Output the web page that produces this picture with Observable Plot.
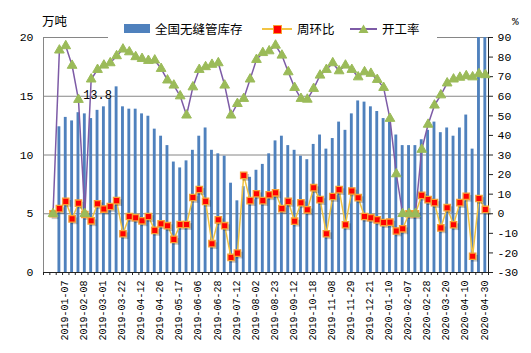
<!DOCTYPE html>
<html><head><meta charset="utf-8">
<script src="https://cdn.jsdelivr.net/npm/d3@7"></script>
<script src="https://cdn.jsdelivr.net/npm/@observablehq/plot@0.6"></script>
<style>
body{margin:0;background:#fff;}
#wrap{position:relative;width:531px;height:353px;overflow:hidden;background:#fff;font-family:"Noto Sans CJK SC",sans-serif;}
.a{position:absolute;}
.t{position:absolute;font-size:12.5px;line-height:16px;color:#000;white-space:nowrap;}
</style></head><body><div id="wrap"></div>
<script>
const dates = ["2018-12-14","2018-12-21","2018-12-28","2019-01-07","2019-01-18","2019-01-25","2019-02-08","2019-02-15","2019-02-22","2019-03-01",
"2019-03-08","2019-03-15","2019-03-22","2019-03-29","2019-04-04","2019-04-12","2019-04-17","2019-04-22","2019-04-26","2019-05-05",
"2019-05-10","2019-05-17","2019-05-24","2019-05-31","2019-06-06","2019-06-14","2019-06-21","2019-06-28","2019-07-03","2019-07-08",
"2019-07-12","2019-07-19","2019-07-26","2019-08-02","2019-08-09","2019-08-16","2019-08-23","2019-08-30","2019-09-06","2019-09-12",
"2019-09-20","2019-09-27","2019-10-18","2019-10-25","2019-11-01","2019-11-08","2019-11-15","2019-11-22","2019-11-29","2019-12-06",
"2019-12-13","2019-12-21","2019-12-27","2020-01-03","2020-01-10","2020-01-17","2020-01-23","2020-02-07","2020-02-14","2020-02-21",
"2020-02-28","2020-03-06","2020-03-13","2020-03-20","2020-03-27","2020-04-03","2020-04-10","2020-04-17","2020-04-24","2020-04-30"];

// 全国无缝管库存 (万吨)
const inventory = [null,null,12.4,13.2,12.9,13.6,13.5,13.1,13.8,14.1,
14.8,15.8,14.1,13.9,13.9,13.5,13.3,12.2,11.6,10.8,
9.4,8.9,9.5,10.4,11.6,12.3,10.4,10.1,9.9,7.6,
6.1,7.3,8.1,8.7,9.2,10.1,11.2,11.6,10.8,10.4,
9.9,9.6,10.9,11.7,10.5,11.4,12.8,12.1,13.5,14.6,
14.5,14.1,13.7,13.1,12.8,11.7,10.8,10.8,10.8,11.3,
12.1,12.8,11.9,12.3,11.6,12.3,13.4,10.5,24,24];

// 周环比 (%)
const weekChange = [null,0,2.6,6.3,-2.6,5.4,-0.4,-3.6,5.1,2.4,
3.7,6.7,-10.2,-1.4,-2.0,-3.6,-1.4,-8.5,-5.1,-6.1,
-13.1,-5.5,-5.5,8.3,12.4,6.3,-15.3,-3.1,-6.1,-22.3,
-20.1,19.6,6.7,10.2,6.7,9.7,10.7,2.6,6.3,-3.8,
5.6,2.0,13.3,7.2,-10.2,8.8,12.3,-5.6,11.6,8.2,
-1.4,-2.0,-3.1,-4.5,-4.3,-8.8,-7.7,0,0,9.4,
7.2,5.7,-7.2,3.1,-5.6,5.7,8.9,-21.7,7.8,2.2];

// 开工率 (%)
const utilization = [null,0,83.5,85.7,75.7,58.3,0,68.7,73.6,75.8,
77.0,80.6,84.0,82.6,80.1,79.2,78.2,78.4,74.1,68.2,
65.6,60.1,50.3,64.7,73.6,75.0,76.2,77.0,65.6,50.3,
56.2,58.8,68.7,78.7,82.2,83.1,86.0,80.9,72.4,64.4,
58.8,58.4,63.9,70.7,73.6,77.0,72.9,75.8,73.6,69.8,
72.4,71.6,68.5,64.4,48.6,20.3,0,0,0,32.8,
45.6,55.4,60.6,66.7,68.7,69.6,70.4,69.8,71.4,70.9];

const xTickLabels = ["2019-01-07","2019-02-08","2019-03-01","2019-03-22","2019-04-12","2019-04-26","2019-05-17","2019-06-06",
"2019-06-28","2019-07-12","2019-08-02","2019-08-23","2019-09-12","2019-10-18","2019-11-08","2019-11-29","2019-12-21",
"2020-01-10","2020-02-07","2020-02-28","2020-03-20","2020-04-10","2020-04-30"];
const leftTicks = [0,5,10,15,20];
const rightTicks = [-30,-20,-10,0,10,20,30,40,50,60,70,80,90];
const annotated = ["2019-02-22"];

const W = 531, H = 353, ml = 43, mr = 43, mt = 37, mb = 81;
const n = dates.length;
const step = (W - ml - mr) / n;
const toL = v => (v - rightTicks[0]) / (rightTicks[rightTicks.length-1] - rightTicks[0]) * leftTicks[leftTicks.length-1];

const rows = dates.map((d,i) => ({date:d, inv:inventory[i], wow:weekChange[i], rate:utilization[i]}));
const rowsInv = rows.filter(d => d.inv != null);
const rowsW = rows.filter(d => d.wow != null);
const rowsR = rows.filter(d => d.rate != null);

const numFont = "Liberation Mono, DejaVu Sans Mono, monospace";

const chart = Plot.plot({
  width: W, height: H,
  marginLeft: ml, marginRight: mr, marginTop: mt, marginBottom: mb,
  style: {fontFamily: numFont, fontSize: "11px", background: "transparent", overflow: "visible"},
  x: {type: "band", domain: dates, paddingInner: 0.55, paddingOuter: 0.275, round: false},
  y: {domain: [0, 20]},
  marks: [
    Plot.gridY(leftTicks.filter(v => v > 0), {stroke: "#868686", strokeOpacity: 1}),
    Plot.barY(rowsInv, {x: "date", y: "inv", fill: "#4F81BD", clip: true}),
    Plot.ruleX([dates[0]], {x: d => d, y1: 0, y2: 20, dx: -step/2, stroke: "#868686"}),
    Plot.ruleX([dates[n-1]], {x: d => d, y1: 0, y2: 20, dx: step/2, stroke: "#222"}),
    Plot.ruleY([0], {stroke: "#222"}),
    Plot.axisX(dates, {tickSize: 3, tickFormat: () => "", dx: -step/2, label: null, stroke: "#222"}),
    Plot.axisX([dates[n-1]], {tickSize: 3, tickFormat: () => "", dx: step/2, label: null, stroke: "#222"}),
    Plot.axisX(xTickLabels, {tickSize: 0, tickRotate: -90, tickPadding: 8, fontSize: 10, label: null, dx: -1}),
    Plot.axisY(leftTicks, {anchor: "left", tickSize: 0, tickPadding: 10, fontSize: 11.5, label: null}),
    Plot.axisY(rightTicks.map(toL), {anchor: "right", tickSize: 4, tickPadding: 5, fontSize: 11.5, label: null,
      tickFormat: v => String(Math.round(rightTicks[0] + v / leftTicks[leftTicks.length-1] * (rightTicks[rightTicks.length-1] - rightTicks[0]))), stroke: "#222"}),
    Plot.text(rowsInv.filter(d => annotated.includes(d.date)), {x: "date", y: "inv", text: d => d.inv.toFixed(1), dy: -15, fontSize: 12}),
    Plot.line(rowsW, {x: "date", y: d => toL(d.wow), stroke: "#F2C444", strokeWidth: 1.5}),
    Plot.dot(rowsW, {x: "date", y: d => toL(d.wow), symbol: "square", r: 3.8, fill: "#000", fillOpacity: 0.22, dx: 2, dy: 2}),
    Plot.dot(rowsW, {x: "date", y: d => toL(d.wow), symbol: "square", r: 3.6, fill: "#FF0000", stroke: "#F7A035", strokeWidth: 1.3}),
    Plot.line(rowsR, {x: "date", y: d => toL(d.rate), stroke: "#7D5BA6", strokeWidth: 1.5}),
    Plot.dot(rowsR, {x: "date", y: d => toL(d.rate), symbol: "triangle", r: 3.6, fill: "#9BBB59", stroke: "#9BBB59", strokeWidth: 1})
  ]
});
const wrap = document.getElementById("wrap");
chart.style.position = "absolute"; chart.style.left = "0"; chart.style.top = "0";
wrap.appendChild(chart);

function add(html){ wrap.insertAdjacentHTML("beforeend", html); }
add('<div class="t" style="left:42px;top:13px;">万吨</div>');
add('<div class="t" style="left:512px;top:14px;font-family:Liberation Mono,monospace;font-size:11px;">%</div>');
add('<div class="a" style="left:108px;top:19px;width:329px;height:20px;background:#fff;"></div>');
add('<div class="a" style="left:124px;top:24px;width:26px;height:9px;background:#4F81BD;"></div>');
add('<div class="t" style="left:155px;top:21px;">全国无缝管库存</div>');
add('<div class="a" style="left:262px;top:28px;width:30px;height:2px;background:#F2C444;"></div>');
add('<div class="a" style="left:273px;top:25px;width:9px;height:9px;box-sizing:border-box;background:#FF0000;border:1.5px solid #F7A035;"></div>');
add('<div class="t" style="left:297px;top:21px;">周环比</div>');
add('<div class="a" style="left:350px;top:28px;width:27px;height:2px;background:#7D5BA6;"></div>');
add('<svg class="a" style="left:358px;top:24px;" width="11" height="10"><polygon points="5.5,0.5 10.5,9 0.5,9" fill="#9BBB59"/></svg>');
add('<div class="t" style="left:382px;top:21px;">开工率</div>');
</script></body></html>
